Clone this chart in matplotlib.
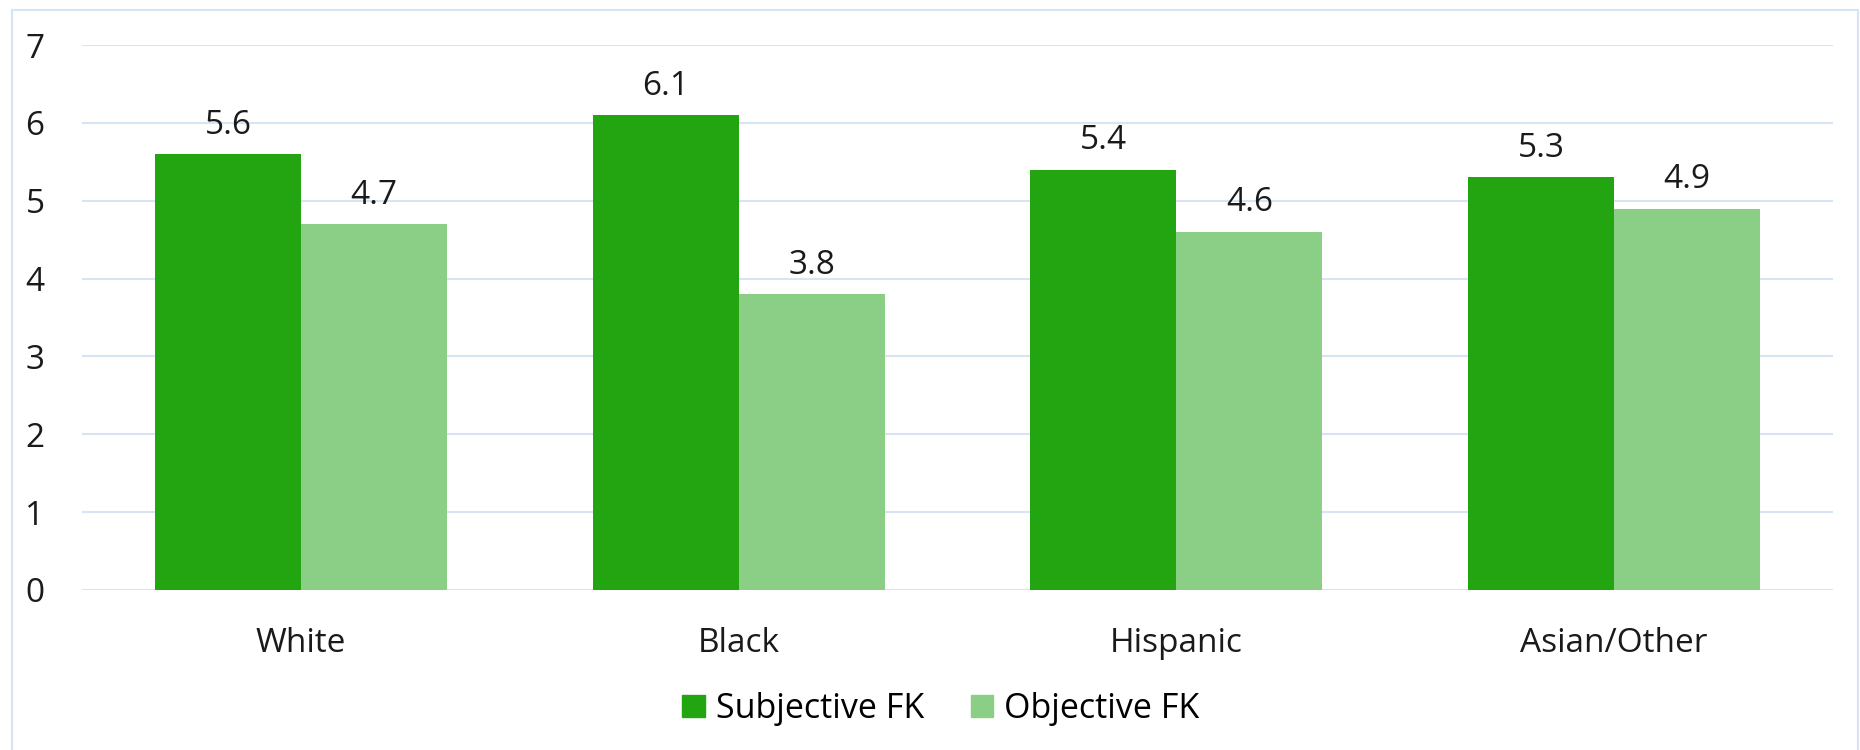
import matplotlib
matplotlib.use("Agg")
import matplotlib.pyplot as plt
import numpy as np
from matplotlib.patches import Rectangle, Patch

categories = ["White", "Black", "Hispanic", "Asian/Other"]
subjective = [5.6, 6.1, 5.4, 5.3]
objective = [4.7, 3.8, 4.6, 4.9]
series_names = ["Subjective FK", "Objective FK"]

DARK = "#22A511"
LIGHT = "#8BCF87"
GRID = "#D6E4F5"

plt.rcParams["font.family"] = ["Open Sans", "DejaVu Sans"]

fig = plt.figure(figsize=(18.6, 7.5), dpi=100)
ax = fig.add_axes([82/1860, 160/750, (1833-82)/1860, (590-45)/750])

x = np.arange(len(categories))
w = 1/3
b1 = ax.bar(x - w/2, subjective, width=w, color=DARK, zorder=3)
b2 = ax.bar(x + w/2, objective, width=w, color=LIGHT, zorder=3)
for bars in (b1, b2):
    for r in bars:
        ax.annotate(f"{r.get_height():.1f}", (r.get_x() + r.get_width()/2, r.get_height()),
                    xytext=(0, 9), textcoords="offset points", ha="center", va="bottom",
                    fontsize=24, color="#1a1a1a")

ax.set_xlim(-0.5, len(categories) - 0.5)
ax.set_ylim(0, 7)
ax.set_yticks(range(0, 8))
ax.yaxis.grid(True, color=GRID, lw=1.5, zorder=0)
ax.set_axisbelow(True)
ax.set_xticks(x)
ax.set_xticklabels(categories)
for s in ax.spines.values():
    s.set_visible(False)
ax.tick_params(axis="both", length=0, labelsize=24, colors="#1a1a1a")
ax.tick_params(axis="y", pad=27)
ax.tick_params(axis="x", pad=27)

hand = [Patch(color=DARK, label=series_names[0]), Patch(color=LIGHT, label=series_names[1])]
fig.legend(handles=hand, loc="center", bbox_to_anchor=(941/1860, 1 - 709/750), ncol=2,
           frameon=False, handlelength=0.65, handleheight=0.65,
           handletextpad=0.33, columnspacing=1.38, borderpad=0,
           prop={"family": ["Liberation Sans Narrow", "Open Sans"], "size": 24.5})

fig.patches.append(Rectangle((12/1860, -0.01), (1858-12)/1860, 0.01 + (740)/750,
                             transform=fig.transFigure, fill=False, edgecolor=GRID, lw=1.5))

fig.savefig("out.png", dpi=100)
